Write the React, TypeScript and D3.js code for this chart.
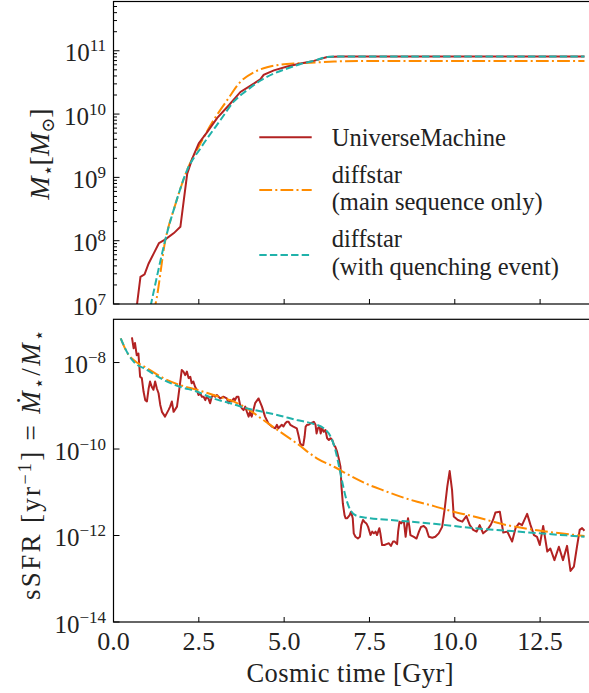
import React from 'react';
import * as d3 from 'd3';

// ---------- Data ----------
// Top panel: stellar mass history, log10(M*/Msun)
const umMassT = [0.66, 0.69, 0.79, 0.91, 1.03, 1.18, 1.33, 1.52, 1.77, 1.96, 2.06, 2.16, 2.31, 2.50, 2.75, 3.04, 3.38, 3.72, 4.11, 4.30, 4.40, 4.70, 5.09, 5.48, 5.87, 6.26, 6.65, 7.5, 9.0, 10.5, 12.0, 13.8];
const umLogMass = [6.8, 7.0, 7.43, 7.47, 7.64, 7.80, 7.96, 8.02, 8.12, 8.22, 8.64, 9.06, 9.30, 9.54, 9.72, 9.94, 10.14, 10.35, 10.48, 10.55, 10.62, 10.69, 10.75, 10.80, 10.84, 10.90, 10.91, 10.91, 10.91, 10.91, 10.91, 10.91];

const msMassT = [1.15, 1.23, 1.52, 1.80, 2.16, 2.55, 2.94, 3.33, 3.72, 4.11, 4.50, 4.89, 5.28, 5.77, 6.46, 7.5, 13.8];
const msLogMass = [6.85, 7.0, 8.01, 8.55, 9.12, 9.54, 9.91, 10.22, 10.51, 10.66, 10.74, 10.78, 10.80, 10.81, 10.83, 10.84, 10.84];

const qMassT = [1.02, 1.10, 1.30, 1.52, 1.80, 2.16, 2.55, 3.14, 3.53, 3.92, 4.31, 4.70, 5.09, 5.48, 5.87, 6.26, 6.65, 7.5, 13.8];
const qLogMass = [6.8, 7.0, 7.5, 8.02, 8.55, 9.12, 9.46, 9.91, 10.20, 10.38, 10.53, 10.64, 10.72, 10.79, 10.84, 10.90, 10.91, 10.91, 10.91];

// Bottom panel: sSFR, log10(sSFR / yr^-1)
const umSsfrT = [
  0.54, 0.59, 0.63, 0.68, 0.73, 0.78, 0.83, 0.88, 0.93, 0.98, 1.03, 1.07, 1.12, 1.17, 1.22, 1.27, 1.32, 1.37, 1.42, 1.51,
  1.61, 1.66, 1.71, 1.76, 1.86, 1.90, 1.95, 2.00, 2.05, 2.10, 2.15, 2.20, 2.25, 2.29, 2.34, 2.39, 2.44, 2.49, 2.54, 2.59,
  2.64, 2.69, 2.73, 2.78, 2.83, 2.88, 2.93, 2.98, 3.03, 3.13, 3.22, 3.32, 3.37, 3.42, 3.47, 3.52, 3.56, 3.61, 3.66, 3.71,
  3.76, 3.81, 3.86, 3.91, 3.96, 4.00, 4.05, 4.10, 4.15, 4.25, 4.35, 4.44, 4.54, 4.64, 4.74, 4.79, 4.83, 4.88, 4.93, 4.98,
  5.03, 5.08, 5.13, 5.18, 5.27, 5.37, 5.42, 5.47, 5.52, 5.56, 5.60, 5.63, 5.67, 5.72, 5.77, 5.82, 5.87, 5.92, 5.95, 5.99,
  6.04, 6.07, 6.11, 6.16, 6.21, 6.26, 6.31, 6.36, 6.41, 6.46, 6.50, 6.55, 6.60, 6.65, 6.68, 6.72, 6.77, 6.80, 6.85, 6.92,
  6.96, 7.01, 7.04, 7.09, 7.16, 7.22, 7.26, 7.31, 7.35, 7.41, 7.46, 7.53, 7.58, 7.63, 7.68, 7.72, 7.79, 7.82, 7.87, 7.94,
  8.00, 8.07, 8.13, 8.19, 8.24, 8.31, 8.34, 8.38, 8.43, 8.46, 8.51, 8.56, 8.60, 8.63, 8.67, 8.70, 8.80, 8.88, 8.95, 9.01,
  9.09, 9.16, 9.24, 9.34, 9.43, 9.53, 9.63, 9.70, 9.78, 9.85, 9.92, 9.97, 10.09, 10.22, 10.34, 10.44, 10.54, 10.64, 10.73, 10.83,
  10.95, 11.05, 11.12, 11.19, 11.32, 11.42, 11.54, 11.68, 11.78, 11.88, 11.97, 12.12, 12.22, 12.32, 12.41, 12.49, 12.59, 12.71, 12.80, 12.92,
  13.05, 13.17, 13.29, 13.39, 13.49, 13.58, 13.66, 13.73, 13.80,
];
const umLogSsfr = [
  -7.42, -7.67, -7.55, -7.83, -7.79, -8.33, -8.36, -8.67, -8.87, -8.90, -8.60, -8.44, -8.56, -8.63, -8.44, -8.60, -8.71, -8.98, -9.14, -9.25,
  -9.10, -9.02, -8.90, -9.14, -9.02, -8.79, -8.48, -8.17, -8.21, -8.29, -8.21, -8.36, -8.33, -8.48, -8.44, -8.56, -8.63, -8.75, -8.71, -8.79,
  -8.79, -8.87, -8.79, -8.83, -8.94, -8.79, -8.75, -8.79, -8.75, -8.83, -8.79, -8.83, -8.94, -8.87, -8.90, -8.83, -8.87, -8.79, -8.79, -8.98,
  -9.06, -9.10, -9.02, -9.14, -9.25, -9.14, -9.25, -9.10, -8.94, -8.83, -9.02, -9.25, -9.41, -9.48, -9.52, -9.44, -9.52, -9.48, -9.44, -9.48,
  -9.41, -9.37, -9.37, -9.44, -9.48, -9.52, -9.68, -9.87, -9.91, -9.91, -9.71, -9.48, -9.44, -9.44, -9.41, -9.39, -9.37, -9.44, -9.64, -9.52,
  -9.48, -9.64, -9.52, -9.60, -9.56, -9.75, -9.79, -9.75, -9.79, -9.91, -9.95, -10.06, -10.22, -10.41, -10.87, -11.26, -11.53, -11.60, -11.60, -11.53,
  -11.45, -11.60, -11.95, -12.03, -12.07, -12.03, -11.76, -11.64, -11.68, -11.72, -11.80, -11.99, -11.91, -11.95, -11.91, -11.99, -11.83, -11.95, -12.22, -12.22,
  -12.20, -12.18, -12.24, -12.14, -12.14, -12.20, -11.91, -11.68, -11.72, -11.68, -11.68, -12.03, -11.76, -11.60, -11.80, -11.99, -12.03, -12.07, -11.91, -11.80,
  -11.78, -11.83, -12.03, -12.05, -12.03, -11.95, -11.80, -11.41, -10.87, -10.51, -10.95, -11.56, -11.64, -11.68, -11.55, -11.76, -11.87, -11.91, -11.76, -11.95,
  -11.87, -11.76, -11.64, -11.47, -11.45, -11.93, -11.91, -12.14, -11.83, -11.72, -11.76, -11.50, -11.76, -11.99, -12.03, -12.22, -11.78, -12.37, -12.30, -12.57,
  -12.26, -12.57, -12.24, -12.82, -12.72, -12.26, -11.87, -11.83, -11.89,
];

const msSsfrT = [0.21, 0.44, 0.59, 0.98, 1.46, 1.95, 2.44, 2.93, 3.42, 3.91, 4.39, 4.88, 5.37, 5.97, 6.46, 6.94, 7.43, 7.92, 8.41, 8.90, 9.39, 9.87, 10.56, 11.53, 12.51, 13.80];
const msLogSsfr = [-7.44, -7.82, -7.94, -8.13, -8.36, -8.52, -8.63, -8.75, -8.87, -9.06, -9.33, -9.60, -9.87, -10.22, -10.41, -10.62, -10.81, -10.96, -11.10, -11.22, -11.32, -11.43, -11.56, -11.76, -11.89, -12.01];

const qSsfrT = [0.21, 0.44, 0.59, 0.98, 1.46, 1.95, 2.44, 2.93, 3.42, 3.91, 4.39, 4.88, 5.37, 5.87, 6.16, 6.36, 6.50, 6.60, 6.70, 6.80, 6.94, 7.14, 7.43, 8.41, 9.39, 10.56, 11.53, 12.51, 13.80];
const qLogSsfr = [-7.44, -7.82, -7.98, -8.17, -8.40, -8.56, -8.67, -8.83, -8.94, -9.06, -9.14, -9.23, -9.33, -9.42, -9.52, -9.71, -10.02, -10.37, -10.75, -11.10, -11.41, -11.55, -11.59, -11.66, -11.73, -11.83, -11.89, -11.95, -12.03];

// Ticks and labels
const xTicks = [0, 2.5, 5, 7.5, 10, 12.5];
const topMajorExp = [7, 8, 9, 10, 11];
const botMajorExp = [-14, -12, -10, -8];
const legendLabels = [
  ['UniverseMachine'],
  ['diffstar', '(main sequence only)'],
  ['diffstar', '(with quenching event)'],
];

const C_UM = '#b22222';
const C_MS = '#ff8c00';
const C_Q = '#20b2aa';
const FONT = '"Liberation Serif", "Times New Roman", Times, "DejaVu Serif", serif';
const TS: React.CSSProperties = { fontFamily: FONT };

export default function App() {
  const W = 589;
  const H = 693;
  const x = d3.scaleLinear().domain([0, 14]).range([113.5, 591.3]);
  const yTop = d3.scaleLog().domain([1e7, 6e11]).range([304, 1.5]);
  const yBot = d3.scaleLog().domain([1e-14, 1e-7]).range([622, 319.3]);

  const mkLine = (ts: number[], vs: number[], y: any, curve: any) =>
    d3
      .line<number>()
      .x((_, i) => x(ts[i]))
      .y((v) => y(Math.pow(10, v)))
      .curve(curve)(vs) as string;

  const topMinor: number[] = [];
  for (let e = 7; e <= 11; e++) {
    for (let m = 2; m <= 9; m++) {
      const v = m * Math.pow(10, e);
      if (v <= 6e11) topMinor.push(v);
    }
  }

  const [xl, xr] = x.range();
  const topY0 = 1.5, topY1 = 304;
  const botY0 = 319.3, botY1 = 622;

  const dashQ = '7.4 3.2';
  const dashMS = '12.8 3.2 2 3.2';

  return (
    <svg
      width={W}
      height={H}
      viewBox={`0 0 ${W} ${H}`}
      style={{ position: 'absolute', left: 0, top: 0, background: '#fff', fontFamily: FONT }}
    >
      <defs>
        <clipPath id="clipTop">
          <rect x={xl} y={topY0} width={xr - xl} height={topY1 - topY0} />
        </clipPath>
        <clipPath id="clipBot">
          <rect x={xl} y={botY0} width={xr - xl} height={botY1 - botY0} />
        </clipPath>
      </defs>
      <rect x={0} y={0} width={W} height={H} fill="#fff" />

      {/* Top panel lines */}
      <g clipPath="url(#clipTop)" fill="none" strokeWidth={2}>
        <path d={mkLine(msMassT, msLogMass, yTop, d3.curveMonotoneX)} stroke={C_MS} strokeDasharray={dashMS} />
        <path d={mkLine(umMassT, umLogMass, yTop, d3.curveLinear)} stroke={C_UM} />
        <path d={mkLine(qMassT, qLogMass, yTop, d3.curveMonotoneX)} stroke={C_Q} strokeDasharray={dashQ} />
      </g>

      {/* Bottom panel lines */}
      <g clipPath="url(#clipBot)" fill="none" strokeWidth={2}>
        <path d={mkLine(umSsfrT, umLogSsfr, yBot, d3.curveLinear)} stroke={C_UM} strokeLinejoin="round" />
        <path d={mkLine(msSsfrT, msLogSsfr, yBot, d3.curveMonotoneX)} stroke={C_MS} strokeDasharray={dashMS} />
        <path d={mkLine(qSsfrT, qLogSsfr, yBot, d3.curveMonotoneX)} stroke={C_Q} strokeDasharray={dashQ} />
      </g>

      {/* Frames */}
      <rect x={xl} y={topY0} width={xr - xl} height={topY1 - topY0} fill="none" stroke="#000" strokeWidth={1.2} />
      <rect x={xl} y={botY0} width={xr - xl} height={botY1 - botY0} fill="none" stroke="#000" strokeWidth={1.2} />

      {/* Ticks */}
      <g stroke="#000" strokeWidth={1}>
        {topMajorExp.map((e) => (
          <line key={'tm' + e} x1={xl} x2={xl + 6} y1={yTop(Math.pow(10, e))} y2={yTop(Math.pow(10, e))} />
        ))}
        {topMinor.map((v, i) => (
          <line key={'tn' + i} x1={xl} x2={xl + 3.5} y1={yTop(v)} y2={yTop(v)} />
        ))}
        {botMajorExp.map((e) => (
          <line key={'bm' + e} x1={xl} x2={xl + 6} y1={yBot(Math.pow(10, e))} y2={yBot(Math.pow(10, e))} />
        ))}
        {xTicks.map((t) => (
          <g key={'xt' + t}>
            <line x1={x(t)} x2={x(t)} y1={topY1} y2={topY1 - 5} />
            <line x1={x(t)} x2={x(t)} y1={botY1} y2={botY1 - 5} />
          </g>
        ))}
      </g>

      {/* Y tick labels */}
      <g fill="#222" textAnchor="end">
        {topMajorExp.map((e) => (
          <text key={'tl' + e} style={TS} x={106} y={yTop(Math.pow(10, e)) + 10.5} fontSize={25}>
            10<tspan dy={-10} fontSize={17}>{String(e)}</tspan>
          </text>
        ))}
        {botMajorExp.map((e) => (
          <text key={'bl' + e} style={TS} x={106} y={yBot(Math.pow(10, e)) + 10.5} fontSize={25}>
            10<tspan dy={-10} fontSize={17}>{'\u2212' + String(-e)}</tspan>
          </text>
        ))}
      </g>

      {/* X tick labels */}
      <g fill="#222" textAnchor="middle" fontSize={26}>
        {xTicks.map((t) => (
          <text key={'xl' + t} style={TS} x={x(t)} y={650}>
            {t.toFixed(1)}
          </text>
        ))}
      </g>

      {/* Axis labels */}
      <text style={TS} x={350} y={682} textAnchor="middle" fontSize={26.5} fill="#222" textLength={207} lengthAdjust="spacing">
        Cosmic time [Gyr]
      </text>
      <text style={TS} transform="translate(49,154) rotate(-90)" textAnchor="middle" fontSize={28} fill="#222">
        <tspan fontStyle="italic">M</tspan>
        <tspan dy={5} fontSize={18}>{'\u22C6'}</tspan>
        <tspan dy={-5}>[</tspan>
        <tspan fontStyle="italic">M</tspan>
        <tspan dy={5} fontSize={18}>{'\u2299'}</tspan>
        <tspan dy={-5}>]</tspan>
      </text>
      <text
        style={TS}
        transform="translate(40,465) rotate(-90)"
        textAnchor="middle"
        fontSize={27}
        fill="#222"
        textLength={270}
        lengthAdjust="spacing"
      >
        sSFR [yr
        <tspan dy={-9} fontSize={18}>{'\u22121'}</tspan>
        <tspan dy={9}>] = </tspan>
        <tspan fontStyle="italic">{'M\u0307'}</tspan>
        <tspan dy={5} fontSize={18}>{'\u22C6'}</tspan>
        <tspan dy={-5}>/</tspan>
        <tspan fontStyle="italic">M</tspan>
        <tspan dy={5} fontSize={18}>{'\u22C6'}</tspan>
      </text>

      {/* Legend */}
      <g fontSize={24.5} fill="#222">
        <line x1={259.3} x2={311.7} y1={137.3} y2={137.3} stroke={C_UM} strokeWidth={2} />
        <line x1={259.3} x2={311.7} y1={190} y2={190} stroke={C_MS} strokeWidth={2} strokeDasharray={dashMS} />
        <line x1={259.3} x2={311.7} y1={255} y2={255} stroke={C_Q} strokeWidth={2} strokeDasharray={dashQ} />
        <text style={TS} x={331.7} y={146}>{legendLabels[0][0]}</text>
        <text style={TS} x={331.7} y={182.7}>{legendLabels[1][0]}</text>
        <text style={TS} x={331.7} y={210}>{legendLabels[1][1]}</text>
        <text style={TS} x={331.7} y={246.7}>{legendLabels[2][0]}</text>
        <text style={TS} x={331.7} y={275}>{legendLabels[2][1]}</text>
      </g>
    </svg>
  );
}
